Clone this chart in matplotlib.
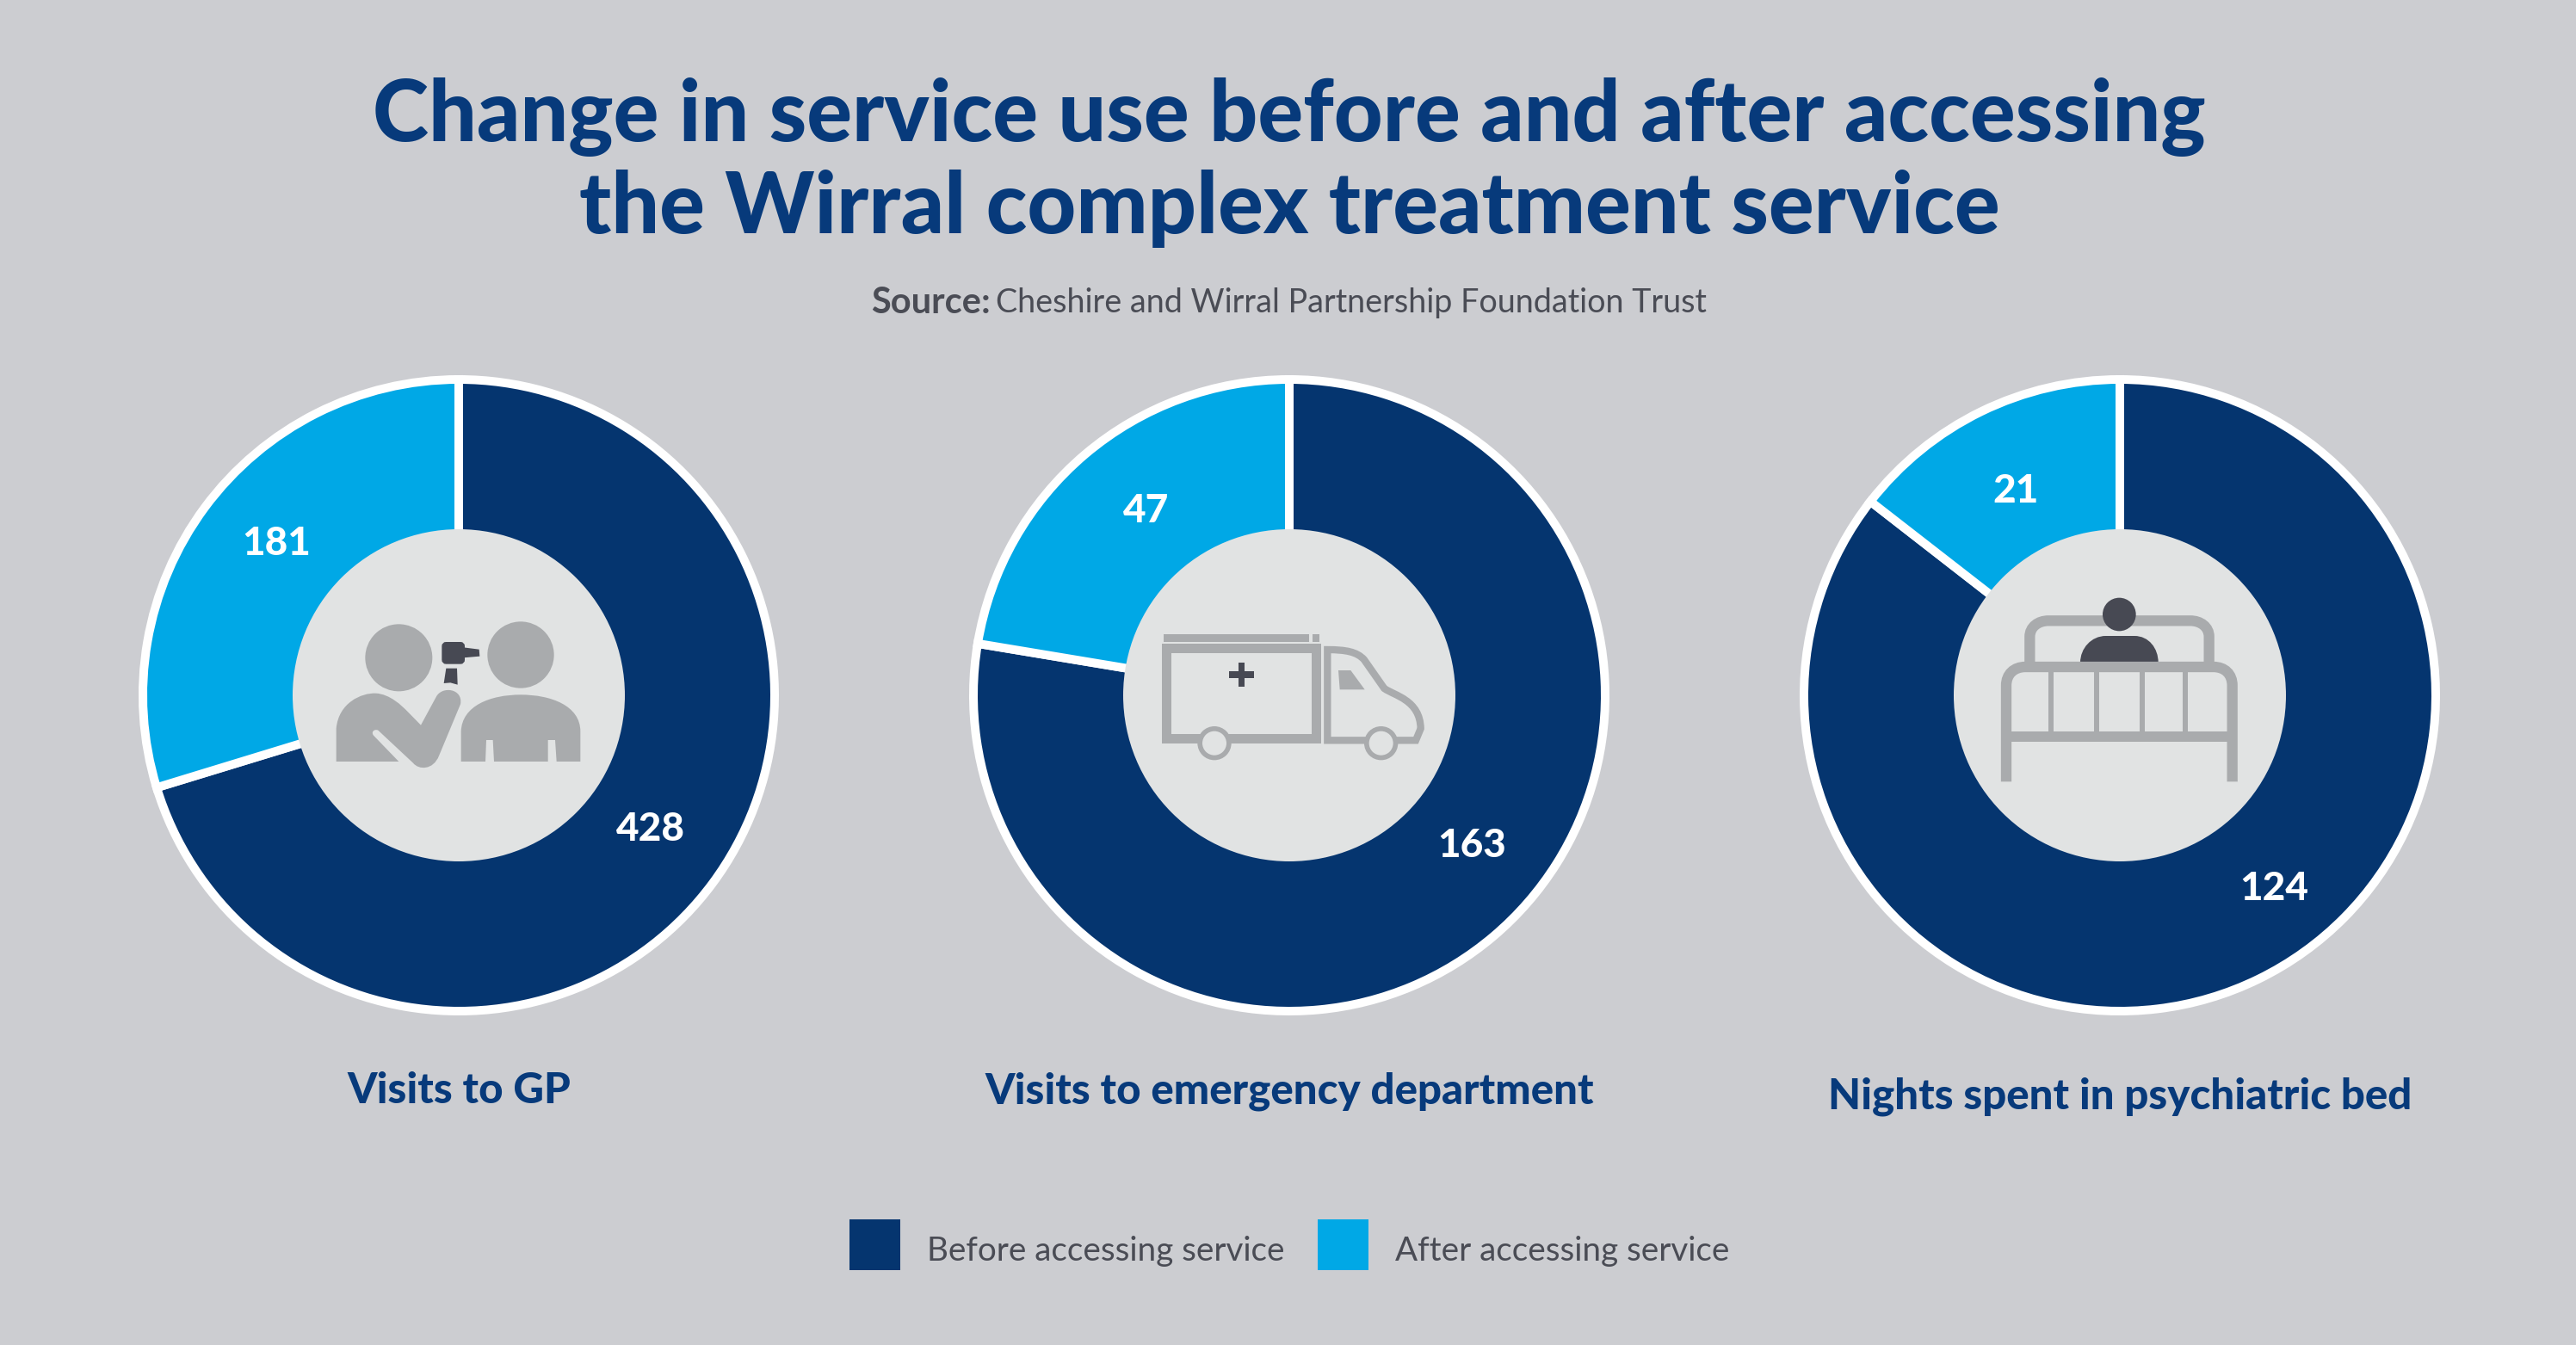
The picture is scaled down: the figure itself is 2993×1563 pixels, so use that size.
import matplotlib
matplotlib.use("Agg")
import matplotlib.pyplot as plt
from matplotlib.patches import Circle, PathPatch, Rectangle, Polygon, FancyBboxPatch
from matplotlib.path import Path

W, H = 2993, 1563

title_lines = ["Change in service use before and after accessing",
               "the Wirral complex treatment service"]
source_bold = "Source:"
source_text = "Cheshire and Wirral Partnership Foundation Trust"
categories = ["Visits to GP", "Visits to emergency department", "Nights spent in psychiatric bed"]
before = [428, 163, 124]
after = [181, 47, 21]
legend_labels = ["Before accessing service", "After accessing service"]

NAVY = "#05356f"
NAVY_TEXT = "#073a7b"
CYAN = "#00a8e6"
BG = "#cccdd1"
HOLE = "#e1e3e3"
GREY = "#a9abad"
DARK = "#474953"
TEXT = "#4a4c55"
FONT = ["Lato", "DejaVu Sans"]

fig = plt.figure(figsize=(W / 100, H / 100), dpi=100, facecolor=BG)
ax = fig.add_axes([0, 0, 1, 1])

# everything below is given in image pixels, y measured from the top
def Y(y):
    return H - y

def px(v):
    return v * 0.72

def txt(x, y, s, size, color, weight="normal", ha="center"):
    ax.text(x, Y(y), s, fontsize=size, color=color, fontweight=weight, ha=ha, va="center", family=FONT)

# maps the 3x zoom coordinates I measured the icons in onto the image
def to_img(pts, ox, oy):
    return [(ox + p[0] / 3, Y(oy + p[1] / 3)) for p in pts]

def curve_patch(segs, ox, oy, closed=True, **kw):
    # segs: first point, then 1 point (line) or 3 points (curve) per entry
    verts = [segs[0]]
    codes = [Path.MOVETO]
    for s in segs[1:]:
        if len(s) == 3 and isinstance(s[0], tuple):
            verts += list(s)
            codes += [Path.CURVE4] * 3
        else:
            verts.append(s)
            codes.append(Path.LINETO)
    if closed:
        verts.append(segs[0])
        codes.append(Path.CLOSEPOLY)
    ax.add_patch(PathPatch(Path(to_img(verts, ox, oy), codes), **kw))

def rect(x0, y0, x1, y1, ox, oy, color, z=4):
    ax.add_patch(Rectangle((ox + x0 / 3, Y(oy + y1 / 3)), (x1 - x0) / 3, (y1 - y0) / 3,
                           facecolor=color, edgecolor="none", zorder=z))

def circ(cx, cy, r, ox, oy, color, z=4):
    ax.add_patch(Circle((ox + cx / 3, Y(oy + cy / 3)), r / 3, facecolor=color, edgecolor="none", zorder=z))

def icon_doctor(ox, oy):
    circ(370, 433, 117, ox, oy, GREY)
    circ(795, 423, 116, ox, oy, GREY)
    curve_patch([(152, 795), (152, 680), ((160, 590), (240, 555), (290, 557)),
                 ((340, 560), (380, 600), (400, 620)), (447, 668), (500, 570),
                 ((520, 530), (595, 540), (585, 595)), (510, 775),
                 ((490, 825), (440, 825), (420, 800)), (298, 686),
                 ((285, 680), (272, 692), (282, 704)), (370, 795)],
                ox, oy, facecolor=GREY, edgecolor="none", zorder=4)
    curve_patch([(587, 795), (587, 690), ((590, 600), (690, 562), (795, 562)),
                 ((900, 562), (1003, 600), (1003, 690)), (1003, 795), (920, 795), (915, 720),
                 (890, 720), (890, 795), (702, 795), (698, 720), (675, 720), (672, 795)],
                ox, oy, facecolor=GREY, edgecolor="none", zorder=4)
    # otoscope
    ax.add_patch(FancyBboxPatch((ox + 526 / 3, Y(oy + 449 / 3)), 68 / 3, 65 / 3,
                                boxstyle="round,pad=0,rounding_size=3", linewidth=px(4),
                                facecolor=DARK, edgecolor=DARK, zorder=5))
    ax.add_patch(Polygon(to_img([(595, 397), (650, 404), (652, 428), (595, 433)], ox, oy),
                         facecolor=DARK, edgecolor="none", zorder=5))
    ax.add_patch(Polygon(to_img([(535, 470), (573, 470), (575, 527), (550, 520), (527, 522)], ox, oy),
                         facecolor=DARK, edgecolor="none", zorder=5))

def icon_ambulance(ox, oy):
    rect(127, 351, 632, 379, ox, oy, GREY)
    rect(646, 351, 668, 379, ox, oy, GREY)
    rect(120, 383, 675, 733, ox, oy, GREY)
    rect(153, 416, 642, 700, ox, oy, HOLE)
    rect(355, 481, 441, 503, ox, oy, DARK)
    rect(387, 449, 409, 535, ox, oy, DARK)
    curve_patch([(697, 721), (697, 405), ((760, 405), (800, 412), (825, 440)), (895, 540),
                 ((930, 565), (1020, 580), (1022, 680)), (1005, 721)],
                ox, oy, facecolor="none", edgecolor=GREY, linewidth=px(25 / 3),
                joinstyle="miter", zorder=4)
    ax.add_patch(Polygon(to_img([(735, 477), (778, 477), (827, 544), (740, 544)], ox, oy),
                         facecolor=GREY, edgecolor="none", zorder=4))
    for cx in (303, 884):
        circ(cx, 731, 59, ox, oy, GREY, z=5)
        circ(cx, 731, 42, ox, oy, HOLE, z=5)

def icon_bed(ox, oy):
    stroke = dict(facecolor="none", edgecolor=GREY, linewidth=px(12.3), capstyle="butt", zorder=4)
    curve_patch([(265, 470), (265, 360), ((265, 325), (295, 304), (330, 304)), (825, 304),
                 ((860, 304), (890, 325), (890, 360)), (890, 470)], ox, oy, closed=False, **stroke)
    circ(577, 282, 58, ox, oy, DARK, z=5)
    curve_patch([(441, 450), ((441, 400), (480, 357), (530, 357)), (630, 357),
                 ((680, 357), (713, 400), (713, 450))], ox, oy,
                facecolor=DARK, edgecolor="none", zorder=4)
    curve_patch([(183, 865), (183, 530), ((183, 490), (210, 465), (250, 465)), (905, 465),
                 ((945, 465), (971, 490), (971, 530)), (971, 865)], ox, oy, closed=False, **stroke)
    rect(183, 690, 971, 727, ox, oy, GREY)
    for x0, x1 in [(331, 349), (489, 507), (648, 666), (798, 816)]:
        rect(x0, 470, x1, 700, ox, oy, GREY)

centers = [(533, 808), (1498, 808), (2463, 808)]
R = 367
R_HOLE = 193
before_pos = [(756, 964), (1710, 983), (2642, 1033)]
after_pos = [(321, 632), (1332, 594), (2342, 571)]
label_pos = [(533, 1268), (1498, 1268), (2463, 1274)]

for i in range(3):
    cx, cy = centers[i]
    ax.pie([before[i], after[i]], colors=[NAVY, CYAN], startangle=90, counterclock=False,
           center=(cx, Y(cy)), radius=R,
           wedgeprops=dict(width=R - R_HOLE + 8, edgecolor="white", linewidth=px(10)))
    ax.add_patch(Circle((cx, Y(cy)), R_HOLE, facecolor=HOLE, edgecolor="none", zorder=3))
    txt(before_pos[i][0], before_pos[i][1], str(before[i]), 33, "white", "black")
    txt(after_pos[i][0], after_pos[i][1], str(after[i]), 33, "white", "black")
    txt(label_pos[i][0], label_pos[i][1], categories[i], 35.5, NAVY_TEXT, "black")

icon_doctor(340, 620)
icon_ambulance(1310, 620)
icon_bed(2270, 620)

txt(1498, 136, title_lines[0], 71, NAVY_TEXT, "black")
txt(1498, 243, title_lines[1], 71, NAVY_TEXT, "black")
txt(1012, 352, source_bold, 30, TEXT, "bold", ha="left")
txt(1157, 352, source_text, 27.2, TEXT, ha="left")

# legend
ax.add_patch(Rectangle((987, Y(1476)), 59, 59, facecolor=NAVY, edgecolor="none"))
ax.add_patch(Rectangle((1531, Y(1476)), 59, 59, facecolor=CYAN, edgecolor="none"))
txt(1077, 1454, legend_labels[0], 27.8, TEXT, ha="left")
txt(1621, 1454, legend_labels[1], 27.8, TEXT, ha="left")

ax.set_xlim(0, W)
ax.set_ylim(0, H)
ax.set_aspect("auto")
ax.axis("off")

fig.savefig("out.png", dpi=100, facecolor=BG)
